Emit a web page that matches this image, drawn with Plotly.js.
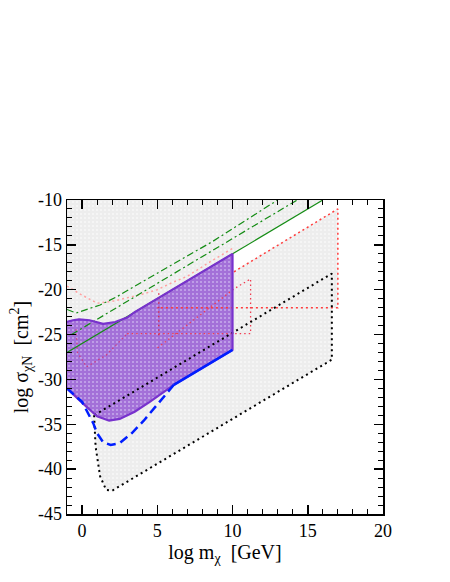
<!DOCTYPE html>
<html>
<head>
<meta charset="utf-8">
<script src="https://cdn.plot.ly/plotly-3.0.1.min.js"></script>
<style>
  body { margin: 0; background: white; }
  #chart { width: 450px; height: 582px; }
</style>
</head>
<body>
<div id="chart"></div>
<script>
// Allowed region (light gray)
const grayX = [-1, 16, 10, 10, 17, 17, 16.6, 16.6, 2, 1.6, 1.2, 0.9, 0.85, 0.75, 0, -1];
const grayY = [-10, -10, -16, -18, -11, -22, -22, -27.8, -42.4, -42.3, -40.8, -37.5, -36.3, -34.9, -32.5, -31];

// Purple band
const purpleX = [-1, -0.6, -0.2, 0.5, 1.4, 2.2, 3, 3.5, 10, 10, 6.1, 5.2, 4.5, 3.5, 2.5, 1.8, 1, 0, -1];
const purpleY = [-23.6, -23.4, -23.3, -23.4, -23.8, -23.6, -23.1, -22.5, -16, -26.7, -30.6, -31.7, -32.5, -33.6, -34.4, -34.6, -34.1, -32.6, -31];

// Blue dashed lower bound
const blueX = [-1, 0, 0.75, 1, 1.4, 1.9, 2.5, 3.3, 4.1, 5.2, 6.1];
const blueY = [-31, -32.5, -34.9, -36, -37, -37.3, -37.1, -36, -34.6, -32.4, -30.6];
const blueSolidX = [6.1, 10];
const blueSolidY = [-30.6, -26.7];

// Green lines
const greenX = [-1, 16];
const greenY = [-27, -10];
const greenDD1X = [-1, -0.4, 1.2, 2.3, 3.4, 8.7, 13];
const greenDD1Y = [-22.2, -22.6, -21.7, -20.8, -19.7, -14.6, -10];
const greenDD2X = [-0.7, 14.3];
const greenDD2Y = [-25, -10];

// Black dotted contour
const blackX = [0.8, 0.85, 0.9, 1.2, 1.6, 2, 16.6, 16.6, 0.8];
const blackY = [-34, -36, -37.5, -40.8, -42.3, -42.4, -27.8, -18.2, -34];

// Red / pink dotted contours
const redUpX = [10.1, 17, 17, 5];
const redUpY = [-18, -11, -22, -22];
const redMidX = [3, 11.2, 11.2, 10.1, 5];
const redMidY = [-24.9, -24.9, -18.8, -19.9, -26.5];
const pinkLowX = [-0.4, -0.3, 0.3, 1.6, 3];
const pinkLowY = [-24.4, -27, -28.6, -27.3, -24.9];
const redVertX = [5.1, 5.1];
const redVertY = [-20.4, -25.2];
const pinkX = [-1, 0, 1, 2, 3, 4, 5, 6, 7, 8.5, 10];
const pinkY = [-19.6, -20.6, -21.5, -21.3, -20.9, -20.5, -20, -19.2, -18.5, -16.9, -15.4];

// Ticks
const xTicks = [0, 5, 10, 15, 20];
const xTickText = ['0', '5', '10', '15', '20'];
const yTicks = [-10, -15, -20, -25, -30, -35, -40, -45];
const yTickText = ['-10', '-15', '-20', '-25', '-30', '-35', '-40', '-45'];

const serif = 'Liberation Serif, Times New Roman, serif';

function line(x, y, color, width, dash) {
    return { x: x, y: y, type: 'scatter', mode: 'lines',
             line: { color: color, width: width, dash: dash || 'solid' },
             hoverinfo: 'skip', showlegend: false };
}

const traces = [
    { x: grayX, y: grayY, type: 'scatter', mode: 'lines', fill: 'toself',
      fillcolor: '#eeeeee', line: { width: 0 },
      fillpattern: { shape: '.', bgcolor: '#ededed', fgcolor: '#f8f8f8', size: 4, solidity: 0.2 },
      hoverinfo: 'skip', showlegend: false },
    { x: purpleX, y: purpleY, type: 'scatter', mode: 'lines', fill: 'toself',
      fillcolor: 'rgb(165,115,218)', line: { width: 0 },
      fillpattern: { shape: '.', bgcolor: 'rgb(163,112,216)', fgcolor: 'rgb(200,172,236)', size: 4, solidity: 0.2 },
      hoverinfo: 'skip', showlegend: false },
    line(pinkX, pinkY, 'rgb(255,160,160)', 1.5, '2px,3px'),
    line(pinkLowX, pinkLowY, 'rgb(210,60,120)', 1.2, '1.5px,3px'),
    line(redUpX, redUpY, 'rgb(255,60,60)', 1.5, '2px,3px'),
    line(redMidX, redMidY, 'rgb(240,60,80)', 1.3, '1.5px,3px'),
    line(redVertX, redVertY, 'rgb(220,40,70)', 1.3, '1.5px,3px'),
    line(blackX, blackY, 'black', 2, '2px,3.5px'),
    line(greenX, greenY, 'rgb(20,140,20)', 1.2),
    line(greenDD1X, greenDD1Y, 'rgb(20,140,20)', 1.2, '7px,3px,2px,3px'),
    line(greenDD2X, greenDD2Y, 'rgb(20,140,20)', 1.2, '7px,3px,2px,3px'),
    line(purpleX.slice(0, 11), purpleY.slice(0, 11), 'rgb(120,50,205)', 2.2),
    line(purpleX.slice(10), purpleY.slice(10), 'rgb(120,50,205)', 2.2),
    line(blueX, blueY, 'rgb(0,30,255)', 2.5, '9px,5px'),
    line(blueSolidX, blueSolidY, 'rgb(0,30,255)', 2.5)
];

const axisCommon = {
    showline: true, linecolor: 'black', linewidth: 1.5, mirror: 'ticks',
    ticks: 'inside', ticklen: 9, tickwidth: 1.5, tickcolor: 'black',
    showgrid: false, zeroline: false, tickmode: 'array',
    tickfont: { family: serif, size: 18, color: 'black' },
    minor: { dtick: 1, ticks: 'inside', ticklen: 5, tickwidth: 1, tickcolor: 'black' }
};

const layout = {
    width: 450, height: 582,
    margin: { l: 67, r: 67, t: 200, b: 68 },
    paper_bgcolor: 'white', plot_bgcolor: 'white',
    xaxis: Object.assign({}, axisCommon, {
        range: [-1, 20], tickvals: xTicks, ticktext: xTickText,
        title: { text: 'log m<sub>χ</sub>  [GeV]', font: { family: serif, size: 20, color: 'black' }, standoff: 0 }
    }),
    yaxis: Object.assign({}, axisCommon, {
        range: [-45, -10], tickvals: yTicks, ticktext: yTickText,
        title: { text: 'log σ<sub>χN</sub>  [cm<sup>2</sup>]', font: { family: serif, size: 20, color: 'black' }, standoff: 4 }
    })
};

Plotly.newPlot('chart', traces, layout, { displayModeBar: false, staticPlot: true });
</script>
</body>
</html>
